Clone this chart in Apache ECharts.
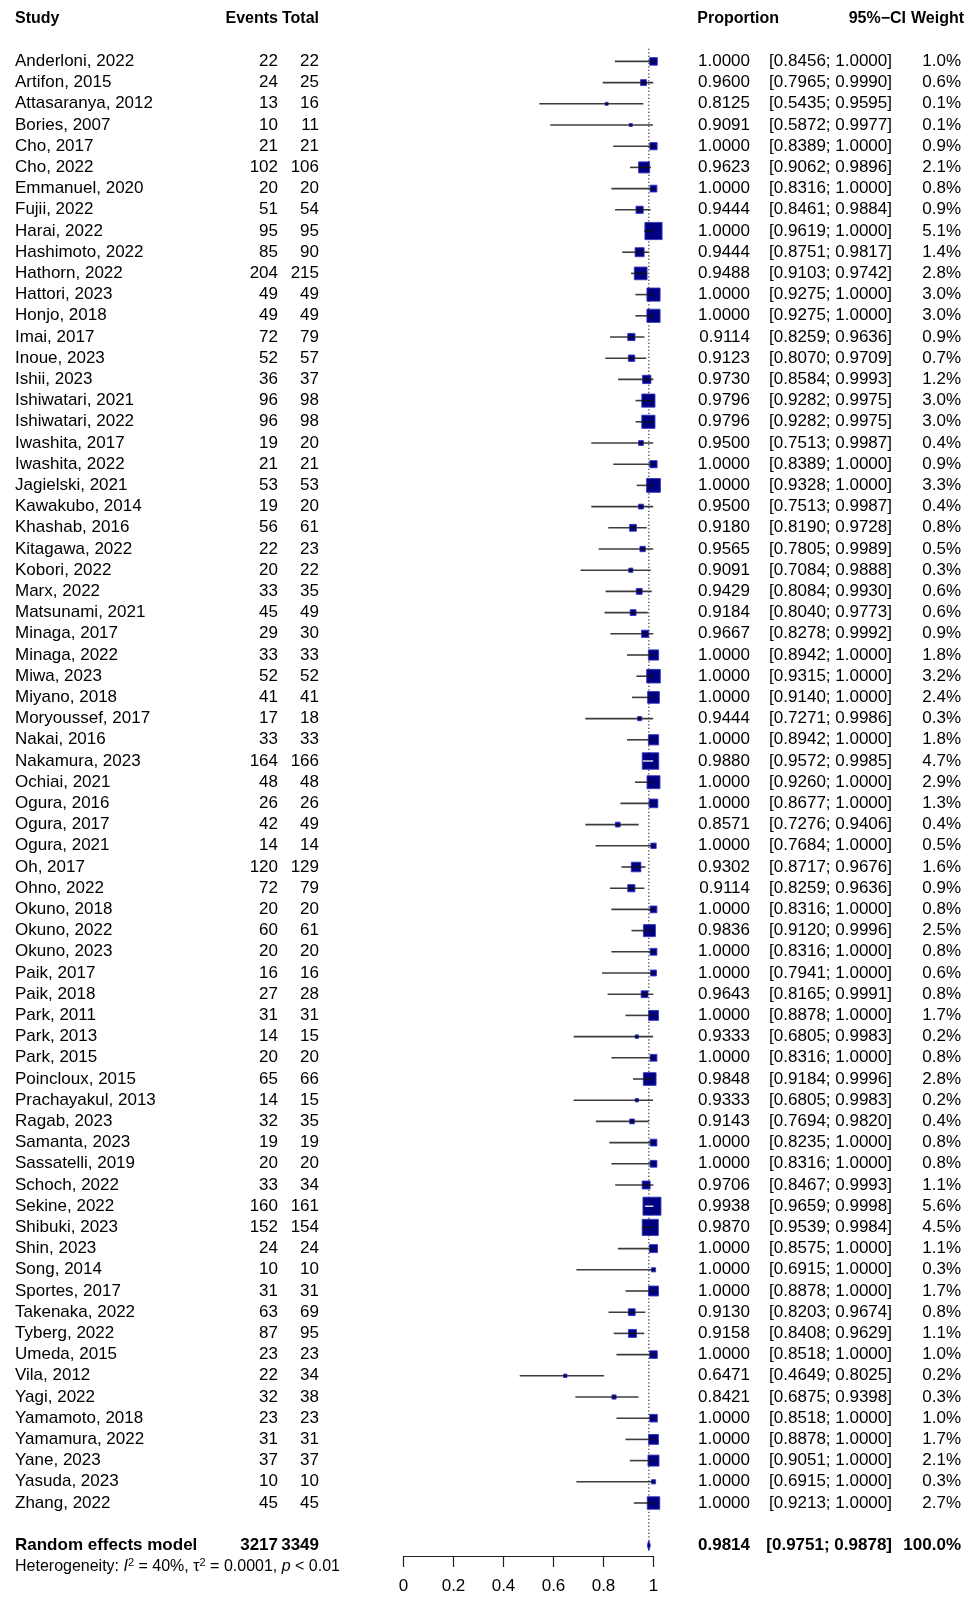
<!DOCTYPE html>
<html>
<head>
<meta charset="utf-8">
<title>Forest plot – pooled proportion</title>
<script src="https://cdn.jsdelivr.net/npm/echarts@6/dist/echarts.min.js"></script>
<style>
  html, body { margin: 0; padding: 0; background: #fff; }
  #chart { width: 968px; height: 1597px; }
</style>
</head>
<body>
<div id="chart"></div>
<script>
// ---- study data ----
const studies = ["Anderloni, 2022","Artifon, 2015","Attasaranya, 2012","Bories, 2007","Cho, 2017","Cho, 2022","Emmanuel, 2020","Fujii, 2022","Harai, 2022","Hashimoto, 2022","Hathorn, 2022","Hattori, 2023","Honjo, 2018","Imai, 2017","Inoue, 2023","Ishii, 2023","Ishiwatari, 2021","Ishiwatari, 2022","Iwashita, 2017","Iwashita, 2022","Jagielski, 2021","Kawakubo, 2014","Khashab, 2016","Kitagawa, 2022","Kobori, 2022","Marx, 2022","Matsunami, 2021","Minaga, 2017","Minaga, 2022","Miwa, 2023","Miyano, 2018","Moryoussef, 2017","Nakai, 2016","Nakamura, 2023","Ochiai, 2021","Ogura, 2016","Ogura, 2017","Ogura, 2021","Oh, 2017","Ohno, 2022","Okuno, 2018","Okuno, 2022","Okuno, 2023","Paik, 2017","Paik, 2018","Park, 2011","Park, 2013","Park, 2015","Poincloux, 2015","Prachayakul, 2013","Ragab, 2023","Samanta, 2023","Sassatelli, 2019","Schoch, 2022","Sekine, 2022","Shibuki, 2023","Shin, 2023","Song, 2014","Sportes, 2017","Takenaka, 2022","Tyberg, 2022","Umeda, 2015","Vila, 2012","Yagi, 2022","Yamamoto, 2018","Yamamura, 2022","Yane, 2023","Yasuda, 2023","Zhang, 2022"];
const events = [22,24,13,10,21,102,20,51,95,85,204,49,49,72,52,36,96,96,19,21,53,19,56,22,20,33,45,29,33,52,41,17,33,164,48,26,42,14,120,72,20,60,20,16,27,31,14,20,65,14,32,19,20,33,160,152,24,10,31,63,87,23,22,32,23,31,37,10,45];
const totals = [22,25,16,11,21,106,20,54,95,90,215,49,49,79,57,37,98,98,20,21,53,20,61,23,22,35,49,30,33,52,41,18,33,166,48,26,49,14,129,79,20,61,20,16,28,31,15,20,66,15,35,19,20,34,161,154,24,10,31,69,95,23,34,38,23,31,37,10,45];
const proportion = [1.0000,0.9600,0.8125,0.9091,1.0000,0.9623,1.0000,0.9444,1.0000,0.9444,0.9488,1.0000,1.0000,0.9114,0.9123,0.9730,0.9796,0.9796,0.9500,1.0000,1.0000,0.9500,0.9180,0.9565,0.9091,0.9429,0.9184,0.9667,1.0000,1.0000,1.0000,0.9444,1.0000,0.9880,1.0000,1.0000,0.8571,1.0000,0.9302,0.9114,1.0000,0.9836,1.0000,1.0000,0.9643,1.0000,0.9333,1.0000,0.9848,0.9333,0.9143,1.0000,1.0000,0.9706,0.9938,0.9870,1.0000,1.0000,1.0000,0.9130,0.9158,1.0000,0.6471,0.8421,1.0000,1.0000,1.0000,1.0000,1.0000];
const ciLower = [0.8456,0.7965,0.5435,0.5872,0.8389,0.9062,0.8316,0.8461,0.9619,0.8751,0.9103,0.9275,0.9275,0.8259,0.8070,0.8584,0.9282,0.9282,0.7513,0.8389,0.9328,0.7513,0.8190,0.7805,0.7084,0.8084,0.8040,0.8278,0.8942,0.9315,0.9140,0.7271,0.8942,0.9572,0.9260,0.8677,0.7276,0.7684,0.8717,0.8259,0.8316,0.9120,0.8316,0.7941,0.8165,0.8878,0.6805,0.8316,0.9184,0.6805,0.7694,0.8235,0.8316,0.8467,0.9659,0.9539,0.8575,0.6915,0.8878,0.8203,0.8408,0.8518,0.4649,0.6875,0.8518,0.8878,0.9051,0.6915,0.9213];
const ciUpper = [1.0000,0.9990,0.9595,0.9977,1.0000,0.9896,1.0000,0.9884,1.0000,0.9817,0.9742,1.0000,1.0000,0.9636,0.9709,0.9993,0.9975,0.9975,0.9987,1.0000,1.0000,0.9987,0.9728,0.9989,0.9888,0.9930,0.9773,0.9992,1.0000,1.0000,1.0000,0.9986,1.0000,0.9985,1.0000,1.0000,0.9406,1.0000,0.9676,0.9636,1.0000,0.9996,1.0000,1.0000,0.9991,1.0000,0.9983,1.0000,0.9996,0.9983,0.9820,1.0000,1.0000,0.9993,0.9998,0.9984,1.0000,1.0000,1.0000,0.9674,0.9629,1.0000,0.8025,0.9398,1.0000,1.0000,1.0000,1.0000,1.0000];
const weight = [1.0,0.6,0.1,0.1,0.9,2.1,0.8,0.9,5.1,1.4,2.8,3.0,3.0,0.9,0.7,1.2,3.0,3.0,0.4,0.9,3.3,0.4,0.8,0.5,0.3,0.6,0.6,0.9,1.8,3.2,2.4,0.3,1.8,4.7,2.9,1.3,0.4,0.5,1.6,0.9,0.8,2.5,0.8,0.6,0.8,1.7,0.2,0.8,2.8,0.2,0.4,0.8,0.8,1.1,5.6,4.5,1.1,0.3,1.7,0.8,1.1,1.0,0.2,0.3,1.0,1.7,2.1,0.3,2.7];

// ---- pooled (random effects) estimate ----
const pooledLabel = "Random effects model";
const pooledEvents = 3217;
const pooledTotal = 3349;
const pooledEst = 0.9814;
const pooledLower = 0.9751;
const pooledUpper = 0.9878;
const pooledWeight = 100.0;
const heterogeneityI2 = "40%";
const heterogeneityTau2 = "0.0001";
const heterogeneityP = "< 0.01";

// ---- column headers and axis ticks ----
const headers = ["Study", "Events", "Total", "Proportion", "95%\u2212CI", "Weight"];
const xTicks = [0, 0.2, 0.4, 0.6, 0.8, 1];
const xTickLabels = ["0", "0.2", "0.4", "0.6", "0.8", "1"];

// ---- layout ----
const FONT = "'Liberation Sans', Arial, Helvetica, sans-serif";
const FS = 17;
const HFS = 16;              // header font size
const ROW_TOP = 19;          // y of the header row
const ROW_H = 21.2;          // row pitch
const ROW_SPAN = 72.5;       // rows covered by the plotting grid (axis at its bottom)
const FIRST_ROW = 2;         // studies start after one blank row
const POOLED_ROW = FIRST_ROW + studies.length + 1;
const HET_ROW = POOLED_ROW + 1;
const SQ_K = 7.6;            // square side per sqrt(weight %)
const SQ_MIN = 3;
const COL = { study: 15, events: 278, total: 319, prop: 750, ci: 892, weight: 961 };
const HEAD = { study: 15, events: 278, total: 319, prop: 779, ci: 906, weight: 964 };
const SQ_FILL = '#000080', SQ_EDGE = '#3535c0', LINE_COL = '#3c3c3c';

const fmt4 = v => v.toFixed(4);
const ciText = (l, u) => '[' + fmt4(l) + '; ' + fmt4(u) + ']';

function txt(x, y, s, align, bold, size) {
  return {
    type: 'text', x: x, y: y, silent: true,
    style: {
      text: s, fill: '#000', align: align, verticalAlign: 'middle',
      fontSize: size || FS, fontFamily: FONT, fontWeight: bold ? 'bold' : 'normal'
    }
  };
}

function renderStudy(params, api) {
  const i = params.dataIndex;
  const row = api.value(1);
  const c = api.coord([proportion[i], row]);
  const y = c[1];
  const xE = c[0];
  const xL = api.coord([ciLower[i], row])[0];
  const xU = api.coord([ciUpper[i], row])[0];
  const side = Math.max(SQ_MIN, SQ_K * Math.sqrt(weight[i]));
  const sL = xE - side / 2, sR = xE + side / 2;
  const inside = xL >= sL && xU <= sR;
  const children = [
    { type: 'line', shape: { x1: xL, y1: y, x2: xU, y2: y }, style: { stroke: LINE_COL, lineWidth: 1.6 } },
    { type: 'rect', shape: { x: sL, y: y - side / 2, width: side, height: side },
      style: { fill: SQ_FILL, stroke: SQ_EDGE, lineWidth: 0.9 } },
    { type: 'line', shape: { x1: Math.max(xL, sL), y1: y, x2: Math.min(xU, sR), y2: y },
      style: { stroke: inside ? '#ffffff' : '#111', lineWidth: 1.3 } },
    txt(COL.study, y, studies[i], 'left'),
    txt(COL.events, y, String(events[i]), 'right'),
    txt(COL.total, y, String(totals[i]), 'right'),
    txt(COL.prop, y, fmt4(proportion[i]), 'right'),
    txt(COL.ci, y, ciText(ciLower[i], ciUpper[i]), 'right'),
    txt(COL.weight, y, weight[i].toFixed(1) + '%', 'right')
  ];
  return { type: 'group', children: children };
}

function renderHeader(params, api) {
  const y = api.coord([0, api.value(1)])[1];
  return { type: 'group', children: [
    txt(HEAD.study, y, headers[0], 'left', true, HFS),
    txt(HEAD.events, y, headers[1], 'right', true, HFS),
    txt(HEAD.total, y, headers[2], 'right', true, HFS),
    txt(HEAD.prop, y, headers[3], 'right', true, HFS),
    txt(HEAD.ci, y, headers[4], 'right', true, HFS),
    txt(HEAD.weight, y, headers[5], 'right', true, HFS)
  ]};
}

function renderPooled(params, api) {
  const row = api.value(1);
  const c = api.coord([pooledEst, row]);
  const y = c[1];
  const xL = api.coord([pooledLower, row])[0];
  const xU = api.coord([pooledUpper, row])[0];
  const hh = 5.4;
  return { type: 'group', children: [
    { type: 'polygon', shape: { points: [[xL, y], [c[0], y - hh], [xU, y], [c[0], y + hh]] },
      style: { fill: SQ_FILL, stroke: SQ_EDGE, lineWidth: 0.8 } },
    txt(COL.study, y, pooledLabel, 'left', true),
    txt(COL.events, y, String(pooledEvents), 'right', true),
    txt(COL.total, y, String(pooledTotal), 'right', true),
    txt(COL.prop, y, fmt4(pooledEst), 'right', true),
    txt(COL.ci, y, ciText(pooledLower, pooledUpper), 'right', true),
    txt(COL.weight, y, pooledWeight.toFixed(1) + '%', 'right', true)
  ]};
}

function renderHet(params, api) {
  const y = api.coord([0, api.value(1)])[1];
  const base = { fontSize: 16, fontFamily: FONT, fill: '#000', lineHeight: 19 };
  return {
    type: 'text', x: COL.study, y: y, silent: true,
    style: {
      text: '{n|Heterogeneity: }{it|I}{sup|2}{n| = ' + heterogeneityI2 + ', \u03c4}{sup|2}{n| = ' +
            heterogeneityTau2 + ', }{it|p}{n| ' + heterogeneityP + '}',
      align: 'left', verticalAlign: 'middle',
      rich: {
        n: base,
        it: Object.assign({}, base, { fontStyle: 'italic' }),
        sup: { fontSize: 11, fontFamily: FONT, fill: '#000', lineHeight: 11, verticalAlign: 'top' }
      }
    }
  };
}

const chart = echarts.init(document.getElementById('chart'), null, { renderer: 'canvas' });
chart.setOption({
  animation: false,
  backgroundColor: '#fff',
  grid: { left: 403.5, top: ROW_TOP, width: 250, height: ROW_SPAN * ROW_H, containLabel: false },
  xAxis: {
    type: 'value', min: xTicks[0], max: xTicks[xTicks.length - 1], interval: 0.2,
    position: 'bottom',
    axisLine: { show: true, onZero: false, lineStyle: { color: '#222', width: 1.2 } },
    axisTick: { show: true, length: 11, lineStyle: { color: '#222', width: 1.2 } },
    axisLabel: {
      color: '#000', fontSize: FS, fontFamily: FONT, margin: 22,
      formatter: function (v) {
        const k = xTicks.findIndex(t => Math.abs(t - v) < 1e-6);
        return k >= 0 ? xTickLabels[k] : '';
      }
    },
    splitLine: { show: false }
  },
  yAxis: { type: 'value', inverse: true, min: 0, max: ROW_SPAN, show: false },
  series: [
    {
      // pooled-estimate reference line
      type: 'line', silent: true, symbol: 'none', z: 1,
      data: [[pooledEst, FIRST_ROW - 0.6], [pooledEst, POOLED_ROW - 0.25]],
      lineStyle: { color: '#333', width: 1.2, type: [1.3, 2.2] }
    },
    {
      type: 'custom', name: 'header', clip: false, silent: true,
      renderItem: renderHeader, data: [[0, 0]]
    },
    {
      type: 'custom', name: 'studies', clip: false, silent: true, z: 3,
      renderItem: renderStudy,
      data: studies.map((s, i) => [proportion[i], FIRST_ROW + i])
    },
    {
      type: 'custom', name: 'pooled', clip: false, silent: true, z: 3,
      renderItem: renderPooled, data: [[pooledEst, POOLED_ROW]]
    },
    {
      type: 'custom', name: 'heterogeneity', clip: false, silent: true,
      renderItem: renderHet, data: [[0, HET_ROW]]
    }
  ]
});
</script>
</body>
</html>
